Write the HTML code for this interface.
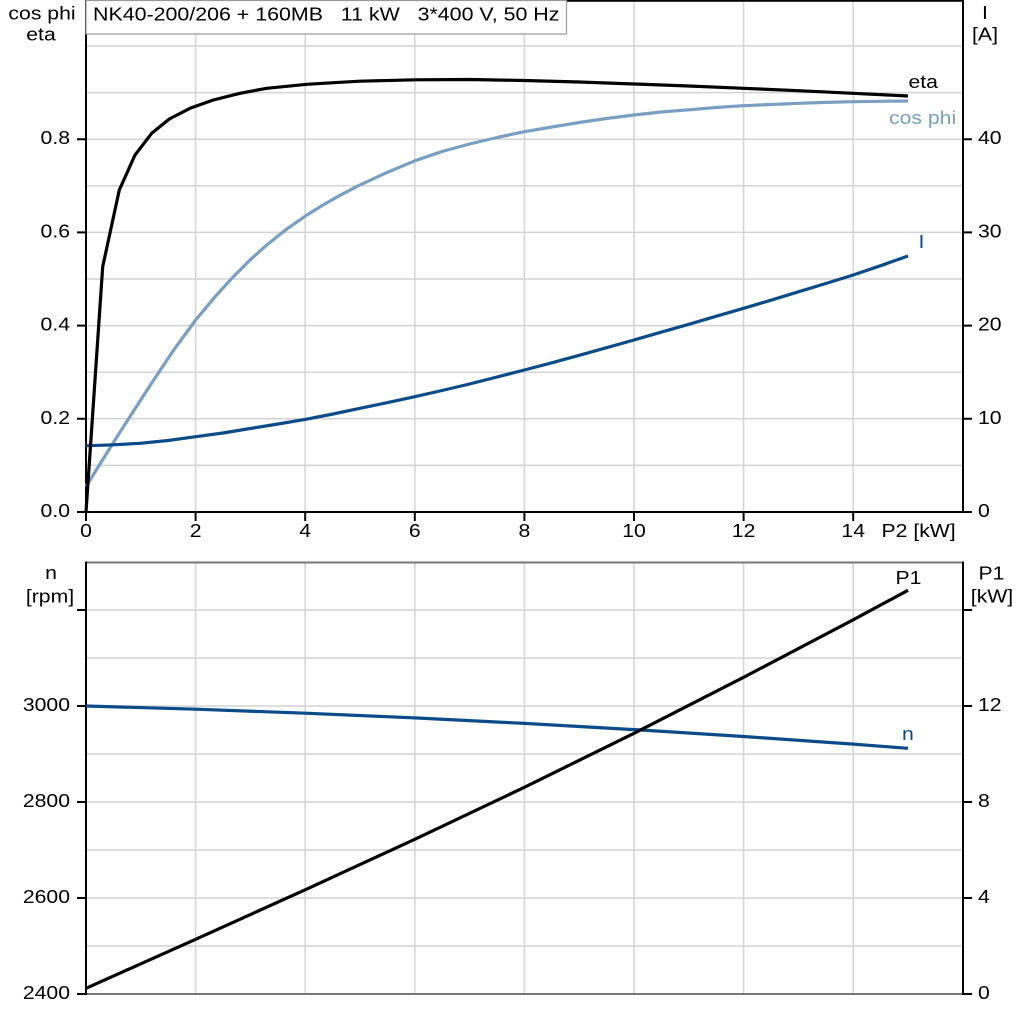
<!DOCTYPE html>
<html><head><meta charset="utf-8"><style>
html,body{margin:0;padding:0;background:#fff;}
svg{display:block;}
text{font-family:"Liberation Sans",Arial,sans-serif;font-size:18.6px;fill:#000;}
</style></head><body>
<svg width="1024" height="1024" viewBox="0 0 1024 1024" xmlns="http://www.w3.org/2000/svg">
<rect x="0" y="0" width="1024" height="1024" fill="#fff"/>
<!-- TOP PANEL GRID -->
<g stroke="#d4d4d4" stroke-width="1.5" fill="none">
<path d="M195.6 0V512M305.2 0V512M414.8 0V512M524.4 0V512M634 0V512M743.6 0V512M853.2 0V512"/>
<path d="M86 465.4H963M86 418.8H963M86 372.2H963M86 325.6H963M86 279H963M86 232.4H963M86 185.8H963M86 139.2H963M86 92.6H963M86 46H963"/>
</g>
<!-- BOTTOM PANEL GRID -->
<g stroke="#d4d4d4" stroke-width="1.5" fill="none">
<path d="M195.6 562V994M305.2 562V994M414.8 562V994M524.4 562V994M634 562V994M743.6 562V994M853.2 562V994"/>
<path d="M86 610H963M86 658H963M86 706H963M86 754H963M86 802H963M86 850H963M86 898H963M86 946H963"/>
</g>
<!-- TOP PANEL AXES -->
<g stroke="#000" stroke-width="2" fill="none">
<path d="M86 0.8H963"/>
<path d="M86 0V521"/>
<path d="M963 0V512"/>
<path d="M77 512H972"/>
<path d="M77 418.8H86M77 325.6H86M77 232.4H86M77 139.2H86"/>
<path d="M963 418.8H972M963 325.6H972M963 232.4H972M963 139.2H972"/>
<path d="M195.6 512V521M305.2 512V521M414.8 512V521M524.4 512V521M634 512V521M743.6 512V521M853.2 512V521"/>
</g>
<!-- BOTTOM PANEL AXES -->
<g fill="none">
<path d="M86 562.5H963M86 994H963" stroke="#777" stroke-width="2"/>
<path d="M86 561.5V995M963 561.5V995" stroke="#000" stroke-width="2"/>
<path d="M77 610H86M77 706H86M77 802H86M77 898H86M77 994H86" stroke="#000" stroke-width="2"/>
<path d="M963 610H972M963 706H972M963 802H972M963 898H972M963 994H972" stroke="#000" stroke-width="2"/>
</g>
<!-- CURVES TOP -->
<g fill="none" stroke-width="3.2" stroke-linejoin="round" stroke-linecap="butt">
<polyline stroke="#7a9fc3" points="86,486.5 100,464 113.3,442.7 130,416.5 151.7,383 173,351 195.7,320 215,296.8 233.3,276.7 250,260 266.7,245 286,229.6 305.7,215.8 323,205 340,195.3 360,184.9 387,172.5 414.8,160.8 442,151.5 469.6,144 497,137.5 524.4,131.7 551.8,127 579.2,122.5 606.6,118.5 634,115 661,112 688.8,109.8 716,107.5 743.6,105.7 771,104.5 798.4,103.3 825.8,102.4 853.2,101.7 880.6,101.3 908,101"/>
<polyline stroke="#0b4c88" points="86,445.7 100,445.3 113.3,444.8 140,443.3 168,440.5 195.7,436.7 223,433 250,428.5 278,424 305.7,419.3 333,414 360,408.3 387,402.7 414.8,396.7 442,390.5 469.6,384 497,377 524.4,370 551.8,362.8 579.2,355.3 606.6,347.7 634,340 661,332.2 688.8,324.3 716,316.3 743.6,308.3 771,300.2 798.4,291.8 825.8,283.5 853.2,275 880.6,265.7 908,256"/>
<polyline stroke="#000" points="86,512 102.7,266.7 119.3,190 135,155 151.7,133.3 169.3,119 190,108.3 213.3,100 240,93.3 266.7,88.3 306.7,84.3 340,82.3 360,81.2 414.8,79.8 469.6,79.5 524.4,80.5 579.2,82 634,84 688.8,86 743.6,88.3 798.4,90.7 853.2,93.3 908,96"/>
</g>
<!-- CURVES BOTTOM -->
<g fill="none" stroke-width="3.2" stroke-linejoin="round">
<polyline stroke="#0b4c88" points="86,706 195.6,709.2 305.2,713.2 414.8,717.9 524.4,723.4 634,729.6 743.6,736.5 853.2,744.1 908,748.3"/>
<polyline stroke="#000" points="86,988.3 195.6,939.3 305.2,889.8 414.8,839.3 524.4,787.3 634,733.3 743.6,677.3 853.2,619.8 908,590.3"/>
</g>
<!-- TITLE BOX -->
<rect x="86" y="0.5" width="480.5" height="33.5" fill="#fff" stroke="#999" stroke-width="1.2"/>
<text transform="translate(93,20.7) scale(1.15,1)" style="white-space:pre" xml:space="preserve">NK40-200/206 + 160MB   11 kW   3*400 V, 50 Hz</text>
<!-- AXIS TITLES -->
<text transform="translate(42,19.3) scale(1.14,1)" text-anchor="middle">cos phi</text>
<text transform="translate(41,40.5) scale(1.14,1)" text-anchor="middle">eta</text>
<text transform="translate(985,19) scale(1.14,1)" text-anchor="middle">I</text>
<text transform="translate(985,40.5) scale(1.14,1)" text-anchor="middle">[A]</text>
<text transform="translate(51,579) scale(1.14,1)" text-anchor="middle">n</text>
<text transform="translate(50,602.5) scale(1.14,1)" text-anchor="middle">[rpm]</text>
<text transform="translate(991.5,579.5) scale(1.14,1)" text-anchor="middle">P1</text>
<text transform="translate(992,602.5) scale(1.14,1)" text-anchor="middle">[kW]</text>
<!-- LEFT TICK LABELS -->
<g text-anchor="end">
<text transform="translate(70,517) scale(1.14,1)">0.0</text>
<text transform="translate(70,423.8) scale(1.14,1)">0.2</text>
<text transform="translate(70,330.6) scale(1.14,1)">0.4</text>
<text transform="translate(70,237.4) scale(1.14,1)">0.6</text>
<text transform="translate(70,144.2) scale(1.14,1)">0.8</text>
<text transform="translate(70,711) scale(1.14,1)">3000</text>
<text transform="translate(70,807) scale(1.14,1)">2800</text>
<text transform="translate(70,903) scale(1.14,1)">2600</text>
<text transform="translate(70,999) scale(1.14,1)">2400</text>
</g>
<!-- RIGHT TICK LABELS -->
<g>
<text transform="translate(978,517) scale(1.14,1)">0</text>
<text transform="translate(978,423.8) scale(1.14,1)">10</text>
<text transform="translate(978,330.6) scale(1.14,1)">20</text>
<text transform="translate(978,237.4) scale(1.14,1)">30</text>
<text transform="translate(978,144.2) scale(1.14,1)">40</text>
<text transform="translate(978,711) scale(1.14,1)">12</text>
<text transform="translate(978,807) scale(1.14,1)">8</text>
<text transform="translate(978,903) scale(1.14,1)">4</text>
<text transform="translate(978,999) scale(1.14,1)">0</text>
</g>
<!-- X TICK LABELS -->
<g text-anchor="middle">
<text transform="translate(86,537) scale(1.14,1)">0</text>
<text transform="translate(195.6,537) scale(1.14,1)">2</text>
<text transform="translate(305.2,537) scale(1.14,1)">4</text>
<text transform="translate(414.8,537) scale(1.14,1)">6</text>
<text transform="translate(524.4,537) scale(1.14,1)">8</text>
<text transform="translate(634,537) scale(1.14,1)">10</text>
<text transform="translate(743.6,537) scale(1.14,1)">12</text>
<text transform="translate(853.2,537) scale(1.14,1)">14</text>
</g>
<text transform="translate(881.5,537) scale(1.14,1)">P2 [kW]</text>
<!-- CURVE LABELS -->
<text transform="translate(908.5,88) scale(1.14,1)">eta</text>
<text transform="translate(889,124) scale(1.14,1)" style="fill:#7a9fc3">cos phi</text>
<text transform="translate(918.5,248) scale(1.14,1)" style="fill:#0b4c88">I</text>
<text transform="translate(895.5,584) scale(1.14,1)">P1</text>
<text transform="translate(902,740) scale(1.14,1)" style="fill:#0b4c88">n</text>
</svg>
</body></html>
